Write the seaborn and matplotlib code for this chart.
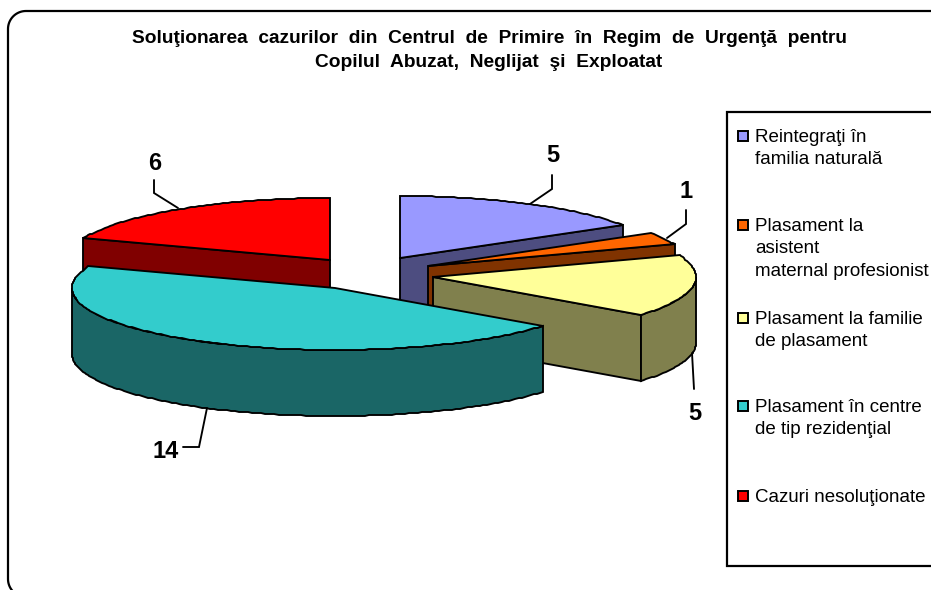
import numpy as np
import matplotlib
matplotlib.use("Agg")
import matplotlib.pyplot as plt
from matplotlib.patches import Rectangle
import seaborn as sns

categories = [
    "Reintegraţi în\nfamilia naturală",
    "Plasament la\nasistent\nmaternal profesionist",
    "Plasament la familie\nde plasament",
    "Plasament în centre\nde tip rezidenţial",
    "Cazuri nesoluţionate",
]
cases = [5, 1, 5, 14, 6]
colors = ["#9999FF", "#FF6600", "#FFFF99", "#33CCCC", "#FF0000"]
title = ("Soluţionarea  cazurilor  din  Centrul  de  Primire  în  Regim  de  Urgenţă  pentru\n"
         "Copilul  Abuzat,  Neglijat  şi  Exploatat")

# layout, in pixels of the 931x590 picture
centers = [(400, 258), (428, 266), (433, 277), (335, 288), (330, 260)]
rx, ry, depth = 263, 62, 66
draw_order = [4, 0, 1, 2, 3]
legend_y = [136, 225, 318, 406, 496]
value_pos = [(553, 155), (686, 192), (695, 413), (166, 452), (155, 163)]
leaders = [
    [(552, 175), (552, 189), (530, 204)],
    [(686, 210), (686, 224), (667, 238)],
    [(692, 353), (694, 389)],
    [(183, 447), (199, 447), (207, 408)],
    [(154, 180), (154, 193), (178, 208)],
]

sns.set_theme(style="white")
plt.rcParams["font.family"] = ["Liberation Sans", "DejaVu Sans"]

fig, ax = plt.subplots(figsize=(9.31, 5.90), dpi=100)
fig.subplots_adjust(0, 0, 1, 1)
ax.set_xlim(0, 931)
ax.set_ylim(590, 0)
ax.axis("off")

LW = 1.35


def rim(c, a):
    a = np.radians(a)
    # whole pixels, the original outline is slightly stepped too
    return np.round(c[0] + rx * np.sin(a)), np.round(c[1] - ry * np.cos(a))


def draw_slice(c, a0, a1, top):
    side = tuple(v * 0.5 for v in top)
    s0, s1 = np.sin(np.radians(a0)), np.sin(np.radians(a1))
    # straight walls facing the viewer
    if s0 < -1e-6:
        x, y = rim(c, a0)
        ax.fill([c[0], x, x, c[0]], [c[1], y, y + depth, c[1] + depth],
                fc=side, ec="black", lw=LW, zorder=2)
    if s1 > 1e-6:
        x, y = rim(c, a1)
        ax.fill([c[0], x, x, c[0]], [c[1], y, y + depth, c[1] + depth],
                fc=side, ec="black", lw=LW, zorder=2)
    # outer wall, only the front half shows
    lo, hi = max(a0, 90), min(a1, 270)
    if hi > lo:
        x, y = rim(c, np.linspace(lo, hi, int(hi - lo) + 2))
        ax.fill(np.r_[x, x[::-1]], np.r_[y, y[::-1] + depth],
                fc=side, ec="black", lw=LW, zorder=2)
    x, y = rim(c, np.linspace(a0, a1, int(a1 - a0) + 2))
    ax.fill(np.r_[c[0], x], np.r_[c[1], y], fc=top, ec="black", lw=LW, zorder=2)


edges = np.r_[0, np.cumsum(cases)] * 360 / sum(cases)
palette = sns.color_palette(colors)
for i in draw_order:
    draw_slice(centers[i], edges[i], edges[i + 1], palette[i])

for (x, y), v, line in zip(value_pos, cases, leaders):
    ax.text(x, y, str(v), ha="center", va="center", fontsize=17,
            fontweight="bold", color="black", zorder=4)
    ax.plot(*zip(*line), color="black", lw=LW, zorder=3, solid_joinstyle="miter")

ax.text(489, 50.5, title, ha="center", va="center", fontsize=13.8, fontweight="bold",
        color="black", linespacing=1.55, zorder=4)

# chart frame runs past the right and bottom edges of the picture
r = 18
t = np.linspace(0, np.pi / 2, 20)
top_x = np.r_[8 + r - r * np.cos(t), 940]
top_y = np.r_[11 + r - r * np.sin(t), 11]
low_x = 8 + r - r * np.cos(t)
low_y = 597 - r + r * np.sin(t)
ax.plot(np.r_[low_x[::-1], top_x], np.r_[low_y[::-1], top_y], color="black", lw=1.6, zorder=1)
ax.add_patch(Rectangle((727, 112), 260, 454, fc="white", ec="black", lw=1.6, zorder=1))

for label, y, col in zip(categories, legend_y, palette):
    ax.add_patch(Rectangle((737.5, y - 5), 10.5, 10, fc=col, ec="black", lw=1.4, zorder=3))
    ax.text(755, y - 7, label, ha="left", va="top", fontsize=13.5, color="black",
            linespacing=1.42, zorder=4)

fig.savefig("out.png", dpi=100)
